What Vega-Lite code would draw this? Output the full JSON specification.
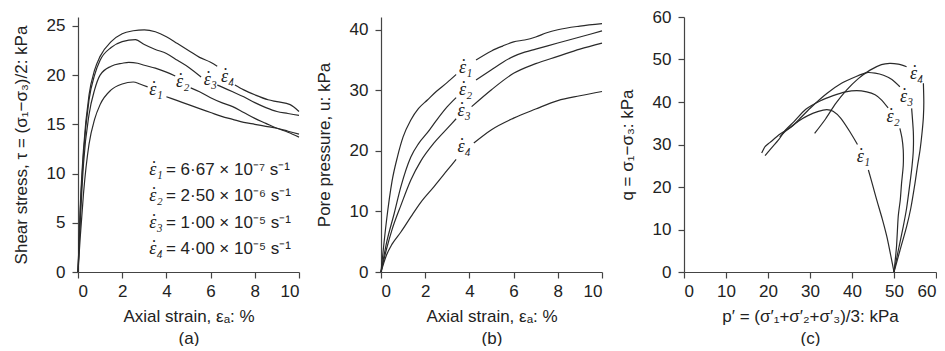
{
  "$schema": "https://vega.github.io/schema/vega-lite/v6.json",
  "background": "white",
  "padding": {"left": 12, "top": 8, "right": 0, "bottom": 0},
  "bounds": "flush",
  "spacing": 82,
  "config": {
    "view": {"stroke": null},
    "font": "Liberation Sans",
    "axis": {
      "grid": false,
      "domainColor": "#444",
      "tickColor": "#444",
      "labelColor": "#222",
      "titleColor": "#222",
      "labelFontSize": 17,
      "titleFontSize": 17,
      "titleFontWeight": "normal",
      "tickSize": 6,
      "domainWidth": 1.2,
      "tickWidth": 1.2
    },
    "axisY": {"titlePadding": 16, "labelPadding": 7},
    "axisX": {"titlePadding": 9, "labelPadding": 5, "titleLineHeight": 22}
  },
  "datasets": {
    "a": [
      {"g":"1a","x":0,"y":0},{"g":"1a","x":0.1,"y":3.5},{"g":"1a","x":0.25,"y":8},{"g":"1a","x":0.5,"y":13},{"g":"1a","x":0.75,"y":15.5},{"g":"1a","x":1,"y":17},{"g":"1a","x":1.5,"y":18.5},{"g":"1a","x":2,"y":19.1},{"g":"1a","x":2.5,"y":19.3},{"g":"1a","x":2.8,"y":19.1},{"g":"1a","x":3.15,"y":18.8},
      {"g":"1b","x":4,"y":17.8},{"g":"1b","x":4.5,"y":17.4},{"g":"1b","x":5,"y":17},{"g":"1b","x":5.5,"y":16.6},{"g":"1b","x":6,"y":16.2},{"g":"1b","x":6.5,"y":15.8},{"g":"1b","x":7,"y":15.5},{"g":"1b","x":7.5,"y":15.2},{"g":"1b","x":8,"y":15},{"g":"1b","x":8.5,"y":14.8},{"g":"1b","x":9,"y":14.6},{"g":"1b","x":9.5,"y":14.3},{"g":"1b","x":10,"y":14},
      {"g":"2a","x":0,"y":0},{"g":"2a","x":0.1,"y":5},{"g":"2a","x":0.25,"y":11},{"g":"2a","x":0.5,"y":16},{"g":"2a","x":0.75,"y":18.5},{"g":"2a","x":1,"y":20},{"g":"2a","x":1.5,"y":20.9},{"g":"2a","x":2,"y":21.2},{"g":"2a","x":2.3,"y":21.3},{"g":"2a","x":2.7,"y":21.2},{"g":"2a","x":3,"y":21},{"g":"2a","x":3.5,"y":20.7},{"g":"2a","x":4,"y":20.3},{"g":"2a","x":4.4,"y":19.9},
      {"g":"2b","x":5.1,"y":18.7},{"g":"2b","x":5.5,"y":18.3},{"g":"2b","x":6,"y":17.7},{"g":"2b","x":6.5,"y":17.2},{"g":"2b","x":7,"y":16.8},{"g":"2b","x":7.5,"y":16.2},{"g":"2b","x":8,"y":15.6},{"g":"2b","x":8.5,"y":15.1},{"g":"2b","x":9,"y":14.6},{"g":"2b","x":9.5,"y":14.2},{"g":"2b","x":10,"y":13.7},
      {"g":"3a","x":0,"y":0},{"g":"3a","x":0.1,"y":6},{"g":"3a","x":0.25,"y":12},{"g":"3a","x":0.5,"y":17.5},{"g":"3a","x":0.75,"y":20},{"g":"3a","x":1,"y":21.5},{"g":"3a","x":1.5,"y":22.8},{"g":"3a","x":2,"y":23.4},{"g":"3a","x":2.6,"y":23.6},{"g":"3a","x":3,"y":23.1},{"g":"3a","x":3.5,"y":22.6},{"g":"3a","x":4,"y":22.2},{"g":"3a","x":4.5,"y":21.5},{"g":"3a","x":5,"y":20.8},{"g":"3a","x":5.57,"y":19.8},
      {"g":"3b","x":6.3,"y":19},{"g":"3b","x":6.5,"y":18.8},{"g":"3b","x":7,"y":18.3},{"g":"3b","x":7.5,"y":17.8},{"g":"3b","x":8,"y":17.2},{"g":"3b","x":8.5,"y":16.7},{"g":"3b","x":9,"y":16.3},{"g":"3b","x":9.5,"y":16.1},{"g":"3b","x":10,"y":15.9},
      {"g":"4a","x":0,"y":0},{"g":"4a","x":0.1,"y":6.5},{"g":"4a","x":0.25,"y":12.5},{"g":"4a","x":0.5,"y":18},{"g":"4a","x":0.75,"y":20.5},{"g":"4a","x":1,"y":21.9},{"g":"4a","x":1.5,"y":23.4},{"g":"4a","x":2,"y":24.2},{"g":"4a","x":2.5,"y":24.5},{"g":"4a","x":3,"y":24.6},{"g":"4a","x":3.5,"y":24.4},{"g":"4a","x":4,"y":23.9},{"g":"4a","x":4.5,"y":23.2},{"g":"4a","x":5,"y":22.5},{"g":"4a","x":5.5,"y":21.8},{"g":"4a","x":6,"y":21.3},{"g":"4a","x":6.3,"y":20.9},
      {"g":"4b","x":7.1,"y":19},{"g":"4b","x":7.5,"y":18.5},{"g":"4b","x":8,"y":18},{"g":"4b","x":8.6,"y":17.5},{"g":"4b","x":9,"y":17.3},{"g":"4b","x":9.6,"y":17},{"g":"4b","x":10,"y":16.3}
    ],
    "b": [
      {"g":"1a","x":0,"y":0},{"g":"1a","x":0.25,"y":8.5},{"g":"1a","x":0.5,"y":15},{"g":"1a","x":0.75,"y":19.1},{"g":"1a","x":1,"y":22.3},{"g":"1a","x":1.35,"y":25.1},{"g":"1a","x":1.7,"y":27},{"g":"1a","x":2.1,"y":28.4},{"g":"1a","x":2.5,"y":29.8},{"g":"1a","x":3,"y":31.3},{"g":"1a","x":3.4,"y":32.6},
      {"g":"1b","x":4.3,"y":35},{"g":"1b","x":5,"y":36.5},{"g":"1b","x":5.5,"y":37.3},{"g":"1b","x":6,"y":38},{"g":"1b","x":6.5,"y":38.3},{"g":"1b","x":7,"y":38.8},{"g":"1b","x":7.5,"y":39.5},{"g":"1b","x":8,"y":40},{"g":"1b","x":9,"y":40.6},{"g":"1b","x":10,"y":41},
      {"g":"2a","x":0,"y":0},{"g":"2a","x":0.25,"y":4.8},{"g":"2a","x":0.6,"y":9.7},{"g":"2a","x":0.9,"y":14.1},{"g":"2a","x":1.35,"y":19},{"g":"2a","x":1.7,"y":21.2},{"g":"2a","x":2.1,"y":23},{"g":"2a","x":2.5,"y":25},{"g":"2a","x":3,"y":27.3},{"g":"2a","x":3.4,"y":28.8},
      {"g":"2b","x":4.3,"y":31.7},{"g":"2b","x":5,"y":33.4},{"g":"2b","x":5.5,"y":34.6},{"g":"2b","x":6,"y":35.6},{"g":"2b","x":6.5,"y":36.3},{"g":"2b","x":7,"y":36.8},{"g":"2b","x":8,"y":37.8},{"g":"2b","x":9,"y":38.8},{"g":"2b","x":10,"y":39.8},
      {"g":"3a","x":0,"y":0},{"g":"3a","x":0.25,"y":3.8},{"g":"3a","x":0.5,"y":7},{"g":"3a","x":0.9,"y":11},{"g":"3a","x":1.35,"y":15.2},{"g":"3a","x":1.8,"y":18.3},{"g":"3a","x":2.4,"y":21.3},{"g":"3a","x":3,"y":23.7},{"g":"3a","x":3.4,"y":25.3},
      {"g":"3b","x":4.1,"y":27.3},{"g":"3b","x":5,"y":30.1},{"g":"3b","x":6,"y":32.8},{"g":"3b","x":7,"y":34.4},{"g":"3b","x":8,"y":35.6},{"g":"3b","x":9,"y":36.8},{"g":"3b","x":10,"y":37.8},
      {"g":"4a","x":0,"y":0},{"g":"4a","x":0.25,"y":2.8},{"g":"4a","x":0.5,"y":4.6},{"g":"4a","x":0.9,"y":6.6},{"g":"4a","x":1.35,"y":9.1},{"g":"4a","x":1.8,"y":11.5},{"g":"4a","x":2.4,"y":14.1},{"g":"4a","x":3,"y":16.8},{"g":"4a","x":3.4,"y":18.6},
      {"g":"4b","x":4.2,"y":21.3},{"g":"4b","x":5,"y":23.5},{"g":"4b","x":6,"y":25.4},{"g":"4b","x":7,"y":26.9},{"g":"4b","x":8,"y":28.3},{"g":"4b","x":9,"y":29.1},{"g":"4b","x":10,"y":29.8}
    ],
    "c": [
      {"g":"1a","k":0,"x":50,"y":0},{"g":"1a","k":1,"x":49.2,"y":4},{"g":"1a","k":2,"x":48.3,"y":8.3},{"g":"1a","k":3,"x":47.2,"y":12.5},{"g":"1a","k":4,"x":45.9,"y":16.9},{"g":"1a","k":5,"x":44.9,"y":20.5},{"g":"1a","k":6,"x":43.9,"y":24},
      {"g":"1b","k":7,"x":41.3,"y":30},{"g":"1b","k":8,"x":39.5,"y":33},{"g":"1b","k":9,"x":37.3,"y":36.2},{"g":"1b","k":10,"x":35.5,"y":37.8},{"g":"1b","k":11,"x":34,"y":38.2},{"g":"1b","k":12,"x":32,"y":37.8},{"g":"1b","k":13,"x":29.5,"y":36.8},{"g":"1b","k":14,"x":27.4,"y":35.6},{"g":"1b","k":15,"x":25,"y":33.8},{"g":"1b","k":16,"x":22.8,"y":32.4},{"g":"1b","k":17,"x":20.5,"y":30.5},{"g":"1b","k":18,"x":19.3,"y":29.5},{"g":"1b","k":19,"x":18.5,"y":28},
      {"g":"2a","k":0,"x":50,"y":0},{"g":"2a","k":1,"x":50.6,"y":6},{"g":"2a","k":2,"x":51,"y":13},{"g":"2a","k":3,"x":51.5,"y":17},{"g":"2a","k":4,"x":51.8,"y":20.9},{"g":"2a","k":5,"x":52.2,"y":25},{"g":"2a","k":6,"x":52.2,"y":28.7},{"g":"2a","k":7,"x":51.9,"y":31.5},{"g":"2a","k":8,"x":51.4,"y":33.8},
      {"g":"2b","k":9,"x":48.6,"y":38.6},{"g":"2b","k":10,"x":47,"y":40.5},{"g":"2b","k":11,"x":45.5,"y":41.7},{"g":"2b","k":12,"x":43.5,"y":42.4},{"g":"2b","k":13,"x":41.1,"y":42.7},{"g":"2b","k":14,"x":38.5,"y":42.4},{"g":"2b","k":15,"x":35.5,"y":41.5},{"g":"2b","k":16,"x":32.5,"y":40.3},{"g":"2b","k":17,"x":29,"y":38.3},{"g":"2b","k":18,"x":26.2,"y":35.4},{"g":"2b","k":19,"x":24,"y":33.2},{"g":"2b","k":20,"x":22.6,"y":31.2},{"g":"2b","k":21,"x":20.5,"y":28.8},{"g":"2b","k":22,"x":19.3,"y":27.4},
      {"g":"3a","k":0,"x":50,"y":0},{"g":"3a","k":1,"x":51,"y":5},{"g":"3a","k":2,"x":52.2,"y":10.7},{"g":"3a","k":3,"x":53,"y":15},{"g":"3a","k":4,"x":53.8,"y":20.9},{"g":"3a","k":5,"x":54.3,"y":25},{"g":"3a","k":6,"x":54.6,"y":28.7},{"g":"3a","k":7,"x":54.6,"y":33},{"g":"3a","k":8,"x":54.2,"y":38.5},
      {"g":"3b","k":9,"x":51.4,"y":43.6},{"g":"3b","k":10,"x":49.5,"y":45.3},{"g":"3b","k":11,"x":47.5,"y":46.3},{"g":"3b","k":12,"x":45.5,"y":46.8},{"g":"3b","k":13,"x":43.5,"y":46.9},{"g":"3b","k":14,"x":41,"y":46},{"g":"3b","k":15,"x":37.5,"y":44.4},{"g":"3b","k":16,"x":34,"y":42},{"g":"3b","k":17,"x":30.1,"y":38.6},{"g":"3b","k":18,"x":27.5,"y":36},{"g":"3b","k":19,"x":25.9,"y":34.4},{"g":"3b","k":20,"x":24,"y":33},{"g":"3b","k":21,"x":22.8,"y":31.8},
      {"g":"4a","k":0,"x":50,"y":0},{"g":"4a","k":1,"x":51.4,"y":5},{"g":"4a","k":2,"x":53,"y":10.7},{"g":"4a","k":3,"x":54,"y":15},{"g":"4a","k":4,"x":55,"y":20.9},{"g":"4a","k":5,"x":55.6,"y":25},{"g":"4a","k":6,"x":56.2,"y":28.7},{"g":"4a","k":7,"x":56.7,"y":33},{"g":"4a","k":8,"x":57,"y":36.5},{"g":"4a","k":9,"x":57.1,"y":40},{"g":"4a","k":10,"x":57,"y":44.4},
      {"g":"4b","k":11,"x":53,"y":48.3},{"g":"4b","k":12,"x":51,"y":48.9},{"g":"4b","k":13,"x":49,"y":49.1},{"g":"4b","k":14,"x":47,"y":48.8},{"g":"4b","k":15,"x":44.3,"y":47.5},{"g":"4b","k":16,"x":41.5,"y":45.5},{"g":"4b","k":17,"x":38.7,"y":42.8},{"g":"4b","k":18,"x":36,"y":39.5},{"g":"4b","k":19,"x":33.7,"y":36},{"g":"4b","k":20,"x":31.1,"y":32.6}
    ],
    "la": [
      {"t":"ε₁","x":3.53,"y":18.5},{"t":"ε₂","x":4.74,"y":19.3},{"t":"ε₃","x":5.99,"y":19.5},{"t":"ε₄","x":6.77,"y":19.85},
      {"t":"ε₁","x":3.53,"y":10.4},{"t":"ε₂","x":3.53,"y":7.7},{"t":"ε₃","x":3.53,"y":5.0},{"t":"ε₄","x":3.53,"y":2.3}
    ],
    "leg": [
      {"e":"= 6·67 × 10⁻⁷ s⁻¹","x":3.98,"y":10.4},
      {"e":"= 2·50 × 10⁻⁶ s⁻¹","x":3.98,"y":7.7},
      {"e":"= 1·00 × 10⁻⁵ s⁻¹","x":3.98,"y":5.0},
      {"e":"= 4·00 × 10⁻⁵ s⁻¹","x":3.98,"y":2.3}
    ],
    "lb": [
      {"t":"ε₁","x":3.83,"y":33.7},{"t":"ε₂","x":3.83,"y":30.1},{"t":"ε₃","x":3.76,"y":26.5},{"t":"ε₄","x":3.76,"y":20.7}
    ],
    "lc": [
      {"t":"ε₁","x":42.7,"y":27.1},{"t":"ε₂","x":49.8,"y":36.5},{"t":"ε₃","x":53,"y":41.2},{"t":"ε₄","x":55.4,"y":46.7}
    ]
  },
  "hconcat": [
    {
      "width": 221,
      "height": 255,
      "layer": [
        {
          "data": {"name": "a"},
          "mark": {"type": "line", "color": "#2a2a2a", "strokeWidth": 1.2, "interpolate": "monotone"},
          "encoding": {
            "x": {"field": "x", "type": "quantitative", "scale": {"domain": [0, 10], "nice": false},
                  "axis": {"values": [0, 2, 4, 6, 8, 10], "title": ["Axial strain, εₐ: %", "(a)"]}},
            "y": {"field": "y", "type": "quantitative", "scale": {"domain": [0, 25.9], "nice": false},
                  "axis": {"values": [0, 5, 10, 15, 20, 25], "title": "Shear stress, τ = (σ₁−σ₃)/2: kPa"}},
            "detail": {"field": "g"}
          }
        },
        {
          "data": {"name": "la"},
          "mark": {"type": "text", "font": "Liberation Serif", "fontStyle": "italic", "fontSize": 18, "color": "#222", "align": "center", "baseline": "middle"},
          "encoding": {
            "x": {"field": "x", "type": "quantitative"},
            "y": {"field": "y", "type": "quantitative"},
            "text": {"field": "t"}
          }
        },
        {
          "data": {"name": "la"},
          "mark": {"type": "text", "font": "Liberation Serif", "fontSize": 18, "color": "#222", "align": "center", "baseline": "middle", "dx": -2, "dy": -1},
          "encoding": {
            "x": {"field": "x", "type": "quantitative"},
            "y": {"field": "y", "type": "quantitative"},
            "text": {"value": "˙"}
          }
        },
        {
          "data": {"name": "leg"},
          "mark": {"type": "text", "fontSize": 17, "color": "#222", "align": "left", "baseline": "middle"},
          "encoding": {
            "x": {"field": "x", "type": "quantitative"},
            "y": {"field": "y", "type": "quantitative"},
            "text": {"field": "e"}
          }
        }
      ]
    },
    {
      "width": 221,
      "height": 255,
      "layer": [
        {
          "data": {"name": "b"},
          "mark": {"type": "line", "color": "#2a2a2a", "strokeWidth": 1.2, "interpolate": "monotone"},
          "encoding": {
            "x": {"field": "x", "type": "quantitative", "scale": {"domain": [0, 10], "nice": false},
                  "axis": {"values": [0, 2, 4, 6, 8, 10], "title": ["Axial strain, εₐ: %", "(b)"]}},
            "y": {"field": "y", "type": "quantitative", "scale": {"domain": [0, 42.1], "nice": false},
                  "axis": {"values": [0, 10, 20, 30, 40], "title": "Pore pressure, u: kPa"}},
            "detail": {"field": "g"}
          }
        },
        {
          "data": {"name": "lb"},
          "mark": {"type": "text", "font": "Liberation Serif", "fontStyle": "italic", "fontSize": 18, "color": "#222", "align": "center", "baseline": "middle"},
          "encoding": {
            "x": {"field": "x", "type": "quantitative"},
            "y": {"field": "y", "type": "quantitative"},
            "text": {"field": "t"}
          }
        },
        {
          "data": {"name": "lb"},
          "mark": {"type": "text", "font": "Liberation Serif", "fontSize": 18, "color": "#222", "align": "center", "baseline": "middle", "dx": -2, "dy": -1},
          "encoding": {
            "x": {"field": "x", "type": "quantitative"},
            "y": {"field": "y", "type": "quantitative"},
            "text": {"value": "˙"}
          }
        }
      ]
    },
    {
      "width": 252,
      "height": 255,
      "layer": [
        {
          "data": {"name": "c"},
          "mark": {"type": "line", "color": "#2a2a2a", "strokeWidth": 1.2, "interpolate": "cardinal", "tension": 0.3},
          "encoding": {
            "x": {"field": "x", "type": "quantitative", "scale": {"domain": [0, 60], "nice": false},
                  "axis": {"values": [0, 10, 20, 30, 40, 50, 60], "title": ["p′ = (σ′₁+σ′₂+σ′₃)/3: kPa", "(c)"]}},
            "y": {"field": "y", "type": "quantitative", "scale": {"domain": [0, 60], "nice": false},
                  "axis": {"values": [0, 10, 20, 30, 40, 50, 60], "title": "q = σ₁−σ₃: kPa"}},
            "detail": {"field": "g"},
            "order": {"field": "k", "type": "quantitative"}
          }
        },
        {
          "data": {"name": "lc"},
          "mark": {"type": "text", "font": "Liberation Serif", "fontStyle": "italic", "fontSize": 18, "color": "#222", "align": "center", "baseline": "middle"},
          "encoding": {
            "x": {"field": "x", "type": "quantitative"},
            "y": {"field": "y", "type": "quantitative"},
            "text": {"field": "t"}
          }
        },
        {
          "data": {"name": "lc"},
          "mark": {"type": "text", "font": "Liberation Serif", "fontSize": 18, "color": "#222", "align": "center", "baseline": "middle", "dx": -2, "dy": -1},
          "encoding": {
            "x": {"field": "x", "type": "quantitative"},
            "y": {"field": "y", "type": "quantitative"},
            "text": {"value": "˙"}
          }
        }
      ]
    }
  ]
}
